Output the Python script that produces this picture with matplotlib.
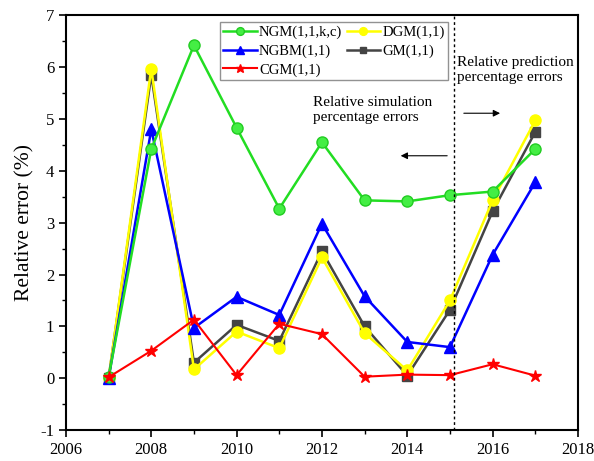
import matplotlib.pyplot as plt

plt.rcParams['font.family'] = ['Liberation Serif', 'DejaVu Serif']
plt.rcParams['axes.unicode_minus'] = False

years = [2007, 2008, 2009, 2010, 2011, 2012, 2013, 2014, 2015, 2016, 2017]
ngm = [0.02, 4.42, 6.42, 4.83, 3.27, 4.55, 3.43, 3.41, 3.53, 3.60, 4.42]
dgm = [0.00, 5.97, 0.17, 0.90, 0.58, 2.33, 0.87, 0.15, 1.50, 3.43, 4.97]
ngbm = [0.00, 4.80, 0.97, 1.57, 1.22, 2.98, 1.58, 0.70, 0.60, 2.38, 3.78]
gm = [0.00, 5.85, 0.30, 1.03, 0.72, 2.45, 1.00, 0.05, 1.32, 3.22, 4.75]
cgm = [0.02, 0.53, 1.13, 0.06, 1.05, 0.85, 0.03, 0.07, 0.06, 0.27, 0.05]

fig = plt.figure(figsize=(5.94, 4.61), dpi=100)
ax = fig.add_axes([0.111, 0.067, 0.862, 0.900])

# draw order: gray/yellow under, then blue, green, red
l_gm, = ax.plot(years, gm, color='#444444', marker='s', ms=7, lw=1.8, label='GM(1,1)')
l_dgm, = ax.plot(years, dgm, color='#FFFF00', marker='o', ms=8, lw=1.8, label='DGM(1,1)')
l_ngbm, = ax.plot(years, ngbm, color='#0000FF', marker='^', ms=8, lw=1.8, label='NGBM(1,1)')
l_ngm, = ax.plot(years, ngm, color='#22DD22', marker='o', ms=8, lw=1.8,
                 mfc='#44EE44', mec='#22CC22', label='NGM(1,1,k,c)')
l_cgm, = ax.plot(years, cgm, color='#FF0000', marker='*', ms=9, lw=1.5, label='CGM(1,1)')

ax.axvline(2015.1, color='black', ls=(0, (2, 2)), lw=1)

ax.set_xlim(2006, 2018)
ax.set_ylim(-1, 7)
ax.set_xticks(range(2006, 2019, 2))
ax.set_xticks(range(2007, 2018, 2), minor=True)
ax.set_yticks(range(-1, 8))
ax.set_yticks([v / 2 for v in range(-2, 15)], minor=True)
ax.tick_params(axis='both', which='major', labelsize=12, length=5, width=1.2, direction='out')
ax.tick_params(axis='both', which='minor', length=3, width=1, direction='out')
for s in ax.spines.values():
    s.set_linewidth(1.5)

ax.set_ylabel('Relative error (%)', fontsize=15.5)

leg = ax.legend(handles=[l_ngm, l_ngbm, l_cgm, l_dgm, l_gm], ncol=2, loc='upper left',
                bbox_to_anchor=(0.30, 0.983), fontsize=10.5, frameon=True, fancybox=False,
                handlelength=2.3, handletextpad=0.15, columnspacing=0.3, labelspacing=0.35,
                borderpad=0.25, borderaxespad=0, markerscale=0.7)
leg.get_frame().set_edgecolor('#777777')
leg.get_frame().set_linewidth(1)

ax.text(2011.78, 5.45, 'Relative simulation\npercentage errors', fontsize=11, va='top', ha='left',
        linespacing=1.25)
ax.text(2015.16, 6.22, 'Relative prediction\npercentage errors', fontsize=11, va='top', ha='left',
        linespacing=1.25)
ax.annotate('', xy=(2013.78, 4.29), xytext=(2015.0, 4.29),
            arrowprops=dict(arrowstyle='-|>', color='black', lw=0.8, mutation_scale=10))
ax.annotate('', xy=(2016.24, 5.11), xytext=(2015.26, 5.11),
            arrowprops=dict(arrowstyle='-|>', color='black', lw=0.8, mutation_scale=10))

fig.savefig('out.png', dpi=100)
